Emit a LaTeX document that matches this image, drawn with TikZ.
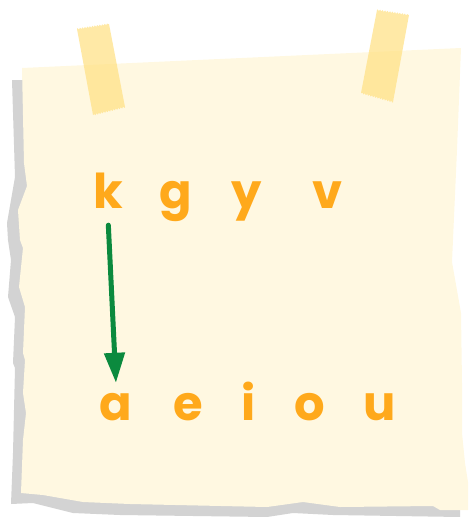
\documentclass[tikz,border=0pt]{standalone}
\usepackage{fontspec}
\newfontfamily\letterfont{Poppins}
\usetikzlibrary{positioning, arrows.meta, decorations.pathmorphing}

\definecolor{paper}{HTML}{FFF8E1}
\definecolor{shadowgray}{HTML}{D3D3D3}
\definecolor{tapeyellow}{HTML}{FFE184}
\definecolor{letterorange}{HTML}{FFA91B}
\definecolor{arrowgreen}{HTML}{0B8A3E}

\tikzset{
  letter/.style={text=letterorange, font=\letterfont\bfseries\fontsize{48}{48}\selectfont,
    text height=36pt, text depth=10pt, inner sep=0pt},
  tape/.style={fill=tapeyellow, fill opacity=0.72},
  torn/.style={decoration={zigzag, segment length=2.5pt, amplitude=0.8pt}},
  pointer/.style={draw=arrowgreen, line width=5pt, line cap=round,
    -{Triangle[length=30pt, width=20pt]}, shorten <=7pt, shorten >=1pt},
}

\begin{document}
\begin{tikzpicture}[x=1pt, y=-1pt, on grid]
        \useasboundingbox (0,0) rectangle (469,517);

        % shadow under the note
        \fill[shadowgray] (12,80) -- (15,177) -- (7,223) -- (8,240) -- (11,260) -- (8,297)
            -- (15,317) -- (13,363) -- (15,368) -- (14,410) -- (13,453) -- (11,504)
            -- (33,503) -- (73,513) -- (120,515) -- (267,517) -- (293,513) -- (333,515)
            -- (460,517) -- (460,480) -- (440,90) -- cycle;

        % the note
        \fill[paper] (22,68) -- (461,48) -- (457,150) -- (452,262) -- (461,313) -- (462,383)
            -- (462,433) -- (465,463) -- (468,482) -- (468,510) -- (440,510) -- (433,506)
            -- (340,507) -- (303,502) -- (267,507) -- (130,504) -- (83,502) -- (43,495)
            -- (21,493) -- (23,440) -- (26,413) -- (23,393) -- (25,360) -- (23,353)
            -- (25,307) -- (19,287) -- (23,248) -- (20,240) -- (18,210) -- (27,186)
            -- (24,163) -- cycle;

        % tape strips
        \fill[tape] (77,29) decorate[torn]{-- (109,24)} -- (125,107)
            decorate[torn]{-- (93,115)} -- cycle;
        \fill[tape] (377,10) decorate[torn]{-- (409,15)} -- (393,102)
            decorate[torn]{-- (361,93)} -- cycle;

        % consonants
        \node[letter] (k) at (108,195) {k};
        \node[letter] (g) [right=68pt of k] {g};
        \node[letter] (y) [right=71pt of g] {y};
        \node[letter] (v) [right=81pt of y] {v};

        % vowels
        \node[letter] (a) [below right=212pt and 8pt of k] {a};
        \node[letter] (e) [right=72pt of a] {e};
        \node[letter] (i) [right=61pt of e] {i};
        \node[letter] (o) [right=61pt of i] {o};
        \node[letter] (u) [right=70pt of o] {u};

        \draw[pointer] (k.south) -- (a.north);
\end{tikzpicture}
\end{document}
